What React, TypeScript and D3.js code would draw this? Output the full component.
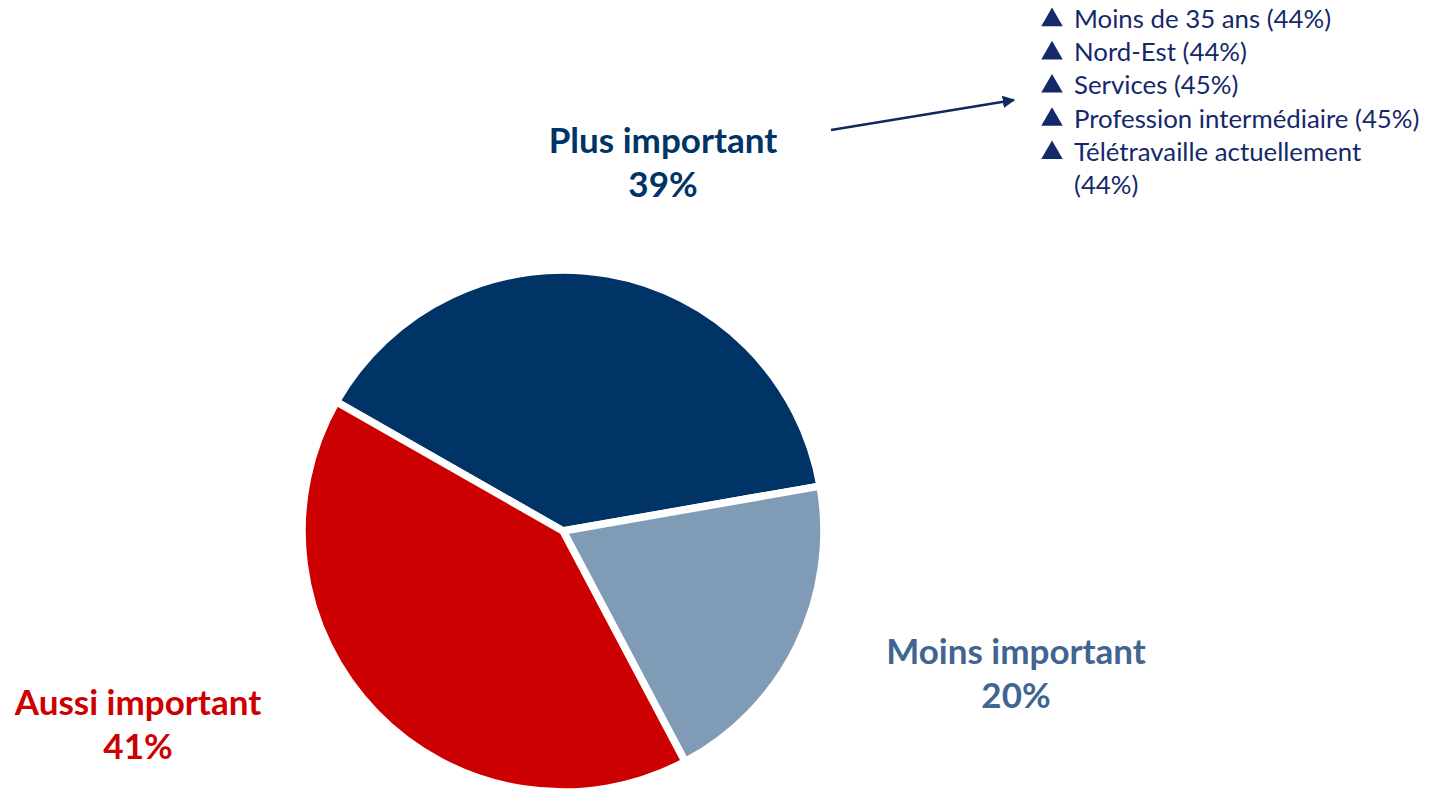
import React from "react";
import * as d3 from "d3";

type Slice = { name: string; value: number; fill: string; labelColor: string };

const categories = ["Plus important", "Moins important", "Aussi important"];
const values = [39, 20, 41];
const sliceColors = ["#003466", "#7F9BB5", "#CC0000"];
const labelColors = ["#003466", "#3F6590", "#CC0000"];
const bulletItems = [
    "Moins de 35 ans (44%)",
    "Nord-Est (44%)",
    "Services (45%)",
    "Profession intermédiaire (45%)",
    "Télétravaille actuellement",
];
const bulletTail = "(44%)";

const W = 1432;
const H = 793;
const CX = 563;
const CY = 531;
const RADIUS = 261;
const START = (-60.3 * Math.PI) / 180;

// label anchor (center x, first baseline) for each slice
const labelPos: [number, number][] = [
    [663, 153],
    [1016, 664],
    [138, 715],
];

const FONT = "Lato, 'Open Sans', sans-serif";

export default function App() {
    const data: Slice[] = categories.map((name, i) => ({
        name,
        value: values[i],
        fill: sliceColors[i],
        labelColor: labelColors[i],
    }));

    const pie = d3
        .pie<Slice>()
        .sort(null)
        .value((d) => d.value)
        .startAngle(START)
        .endAngle(START + 2 * Math.PI);

    const arc = d3.arc<d3.PieArcDatum<Slice>>().innerRadius(0).outerRadius(RADIUS);
    const arcs = pie(data);

    const triangle = d3.symbol().type(d3.symbolTriangle).size(200)();

    return (
        <svg width={W} height={H} style={{ position: "absolute", left: 0, top: 0 }} fontFamily={FONT}>
            <defs>
                <marker id="arrow" viewBox="0 0 10 10" refX="9" refY="5" markerWidth="5" markerHeight="5" orient="auto">
                    <path d="M0,0 L10,5 L0,10 z" fill="#0D2A5E" />
                </marker>
            </defs>
            <g transform={`translate(${CX},${CY})`}>
                {arcs.map((a, i) => (
                    <path key={i} d={arc(a) ?? undefined} fill={a.data.fill} stroke="#fff" strokeWidth={7.5} strokeLinejoin="round" />
                ))}
            </g>
            {data.map((d, i) => (
                <text key={d.name} x={labelPos[i][0]} y={labelPos[i][1]} textAnchor="middle" fontWeight={700} fontSize={35} fill={d.labelColor}>
                    <tspan x={labelPos[i][0]}>{d.name}</tspan>
                    <tspan x={labelPos[i][0]} dy={44}>{d.value}%</tspan>
                </text>
            ))}
            <line x1={831} y1={130} x2={1014} y2={100} stroke="#0D2A5E" strokeWidth={2.5} markerEnd="url(#arrow)" />
            <g fill="#14286A" fontSize={25.8}>
                {bulletItems.map((t, i) => (
                    <g key={t}>
                        <path d={triangle ?? undefined} transform={`translate(1052,${20 + i * 33.2})`} />
                        <text x={1074} y={28 + i * 33.2}>{t}</text>
                    </g>
                ))}
                <text x={1074} y={28 + 5 * 33.2}>{bulletTail}</text>
            </g>
        </svg>
    );
}
